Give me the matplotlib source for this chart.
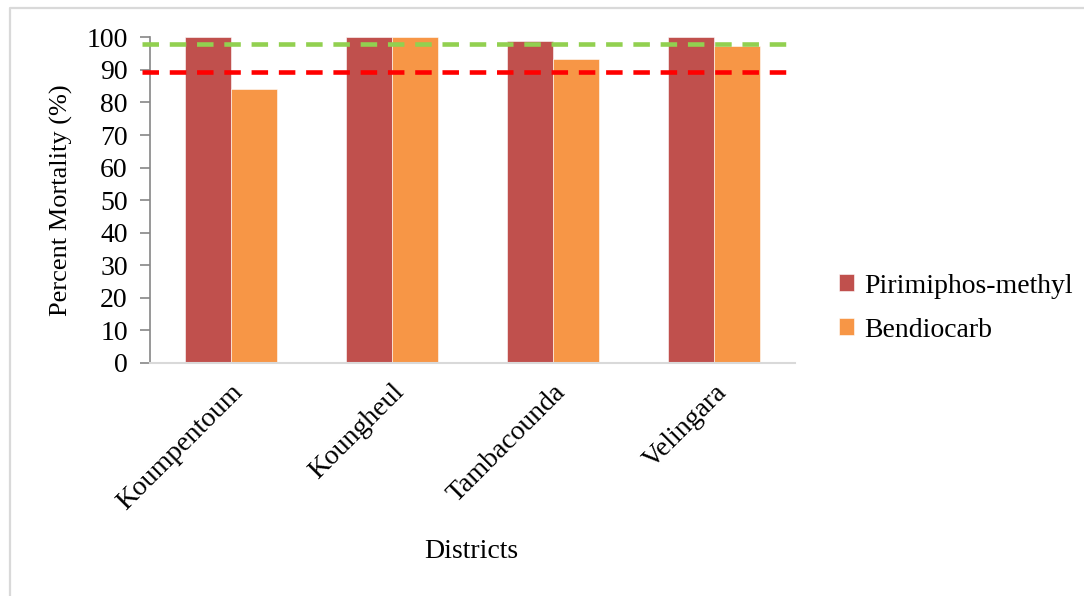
import numpy as np
import matplotlib.pyplot as plt
from matplotlib.lines import Line2D

plt.rcParams['font.family'] = ['Liberation Serif', 'DejaVu Serif']

districts = ["Koumpentoum", "Koungheul", "Tambacounda", "Velingara"]
pirimiphos = [100, 100, 98.9, 100]
bendiocarb = [84.0, 100, 93.2, 97.2]
series_names = ["Pirimiphos-methyl", "Bendiocarb"]
threshold_susceptible = 98
threshold_resistant = 89.5

red_col = "#C0504D"
orange_col = "#F79646"

fig = plt.figure(figsize=(10.84, 5.96), dpi=100)
ax = fig.add_axes([0.1384, 0.391, 0.5946, 0.5464])

x = np.arange(len(districts))
w = 0.2857
ax.bar(x - w / 2, pirimiphos, width=w, color=red_col, edgecolor="white", linewidth=0.4, label=series_names[0], zorder=2)
ax.bar(x + w / 2, bendiocarb, width=w, color=orange_col, edgecolor="white", linewidth=0.4, label=series_names[1], zorder=2)

# WHO reference thresholds as dashed lines spanning the plot
for yv, c in [(threshold_susceptible, "#92D050"), (threshold_resistant, "#FF0000")]:
    ax.add_line(Line2D([-0.55, 3.51], [yv, yv], color=c, lw=3.3, dashes=(3.6, 2.35), zorder=3, clip_on=False))

ax.set_xlim(-0.5, 3.5)
ax.set_ylim(0, 100)
ax.set_yticks(np.arange(0, 101, 10))
ax.set_xticks(x)
ax.set_xticklabels(districts, rotation=45, ha="right", rotation_mode="anchor", fontsize=20)
ax.tick_params(axis="x", length=0, pad=12)
ax.tick_params(axis="y", length=7, width=1.2, color="#868686", labelsize=20, pad=9)

for s in ["top", "right"]:
    ax.spines[s].set_visible(False)
ax.spines["left"].set_color("#868686")
ax.spines["left"].set_linewidth(1.2)
ax.spines["bottom"].set_color("#D9D9D9")
ax.spines["bottom"].set_linewidth(1.5)

ax.set_ylabel("Percent Mortality (%)", fontsize=19, labelpad=10)
fig.text(0.435, 0.074, "Districts", fontsize=20, ha="center", va="center")

fig.legend(handles=ax.patches[:1] + ax.patches[4:5], labels=series_names,
           loc="center left", bbox_to_anchor=(0.751, 0.483), frameon=False,
           fontsize=20, handlelength=0.55, handleheight=0.55, handletextpad=0.35,
           labelspacing=0.68)

# light grey frame around the chart area
fig.add_artist(Line2D([10 / 1084, 10 / 1084, 1.0], [0.0, 1 - 7.5 / 596, 1 - 7.5 / 596],
                      transform=fig.transFigure, color="#D9D9D9", lw=1.6))

fig.savefig("out.png", dpi=100)
